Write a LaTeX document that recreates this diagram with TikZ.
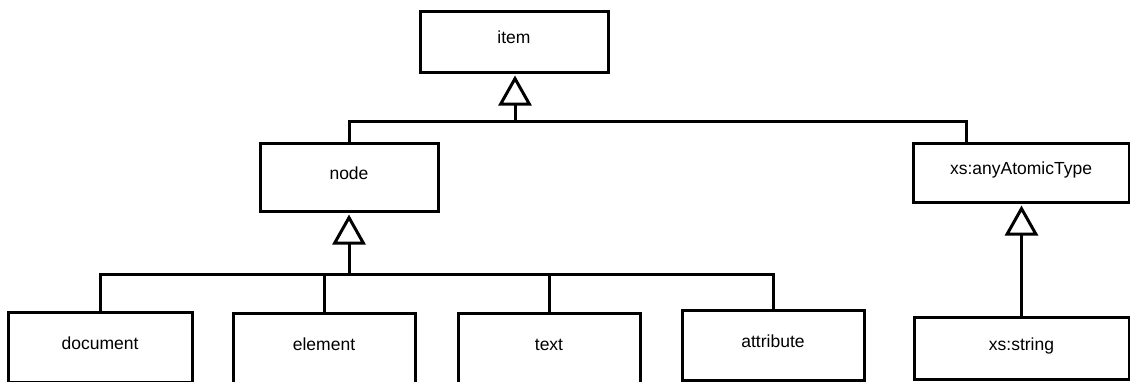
\documentclass[tikz,border=0pt]{standalone}
\usepackage{fontspec}
\setmainfont{Liberation Sans}
\usetikzlibrary{arrows.meta}
\begin{document}
\begin{tikzpicture}[x=1pt,y=-1pt,
  every node/.style={font=\fontsize{17.5}{20}\selectfont},
  classbox/.style={draw=black, line width=3pt, fill=white, inner sep=0pt,
    text height=12pt, text depth=7.4pt},
  link/.style={draw=black, line width=3pt},
  inherit/.style={link, -{Triangle[open, length=30pt, width=33pt]}}
]
\useasboundingbox (0,0) rectangle (1130,381);
\clip (0,0) rectangle (1130,381);

% class boxes
\node[classbox, minimum width=188pt, minimum height=61pt] (item) at (514,41.5) {item};
\node[classbox, minimum width=178pt, minimum height=68pt] (node) at (349,177) {node};
\node[classbox, minimum width=216pt, minimum height=59pt] (atom) at (1021,172.5) {xs:anyAtomicType};
\node[classbox, minimum width=184pt, minimum height=70pt] (doc) at (100,347) {document};
\node[classbox, minimum width=182pt, minimum height=70pt] (elem) at (324,348) {element};
\node[classbox, minimum width=182pt, minimum height=70pt] (txt) at (549,348) {text};
\node[classbox, minimum width=182pt, minimum height=70pt] (attr) at (773,345) {attribute};
\node[classbox, minimum width=215pt, minimum height=62pt] (str) at (1021.5,348) {xs:string};

% junction points of the generalisation trees
\coordinate (j1) at (515,121);
\coordinate (j2) at (349,274);
\coordinate (atomin) at ([xshift=55pt]atom.north west);

% item <- node, xs:anyAtomicType
\draw[link] (node.north) |- (j1);
\draw[link] (atomin) |- (j1);
\draw[inherit] (j1) -- ([yshift=-2pt]item.south -| j1);

% node <- document, element, text, attribute
\draw[link] (doc.north) |- (j2);
\draw[link] (elem.north) |- (j2);
\draw[link] (txt.north) |- (j2);
\draw[link] (attr.north) |- (j2);
\draw[inherit] (j2) -- ([yshift=-2pt]node.south);

% xs:anyAtomicType <- xs:string
\draw[inherit] (str.north) -- ([yshift=-2pt]atom.south -| str.north);
\end{tikzpicture}
\end{document}
